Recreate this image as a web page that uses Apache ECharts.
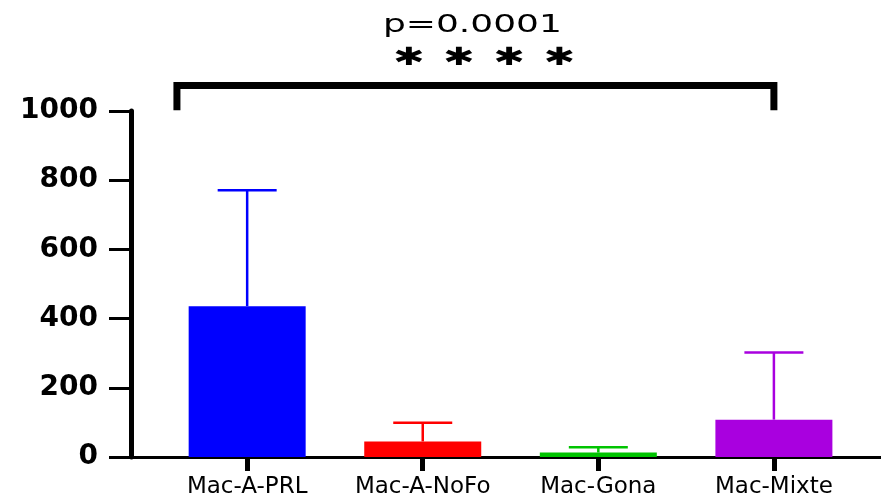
<!DOCTYPE html>
<html>
<head>
<meta charset="utf-8">
<title>Mac groups</title>
<script src="https://cdn.jsdelivr.net/npm/echarts@6/dist/echarts.min.js"></script>
<style>
  html, body { margin: 0; padding: 0; background: #fff; }
  #chart { width: 881px; height: 497px; }
</style>
</head>
<body>
<div id="chart"></div>
<script>
// Groups, their means and the upper error (SD) drawn above each bar
const categories = ['Mac-A-PRL', 'Mac-A-NoFo', 'Mac-Gona', 'Mac-Mixte'];
const meanValues = [436, 45, 13, 108];
const errorValues = [335, 54, 15, 194];

// Value axis settings
const yMin = 0;
const yMax = 1000;
const yStep = 200;

// Significance annotation between the first and last group
const pValueText = 'p=0.0001';
const starsText = '✱\u2002✱\u2002✱\u2002✱';

const barColors = ['#0000FF', '#FF0000', '#00C400', '#A900DF'];
const BAR_WIDTH = 117;
const CAP_WIDTH = 59;
const categoryIdx = categories.map((_, i) => i);

const chart = echarts.init(document.getElementById('chart'), null, { renderer: 'canvas' });

const option = {
  animation: false,
  backgroundColor: '#fff',
  grid: { left: 131, right: 0, top: 111, bottom: 40, containLabel: false, outerBoundsMode: 'none' },
  xAxis: {
    type: 'value',
    min: -0.6616,
    max: 3.61,
    splitLine: { show: false },
    axisLine: { show: true, onZero: false, lineStyle: { color: '#000', width: 3 } },
    axisTick: { show: true, customValues: categoryIdx, length: 14, lineStyle: { color: '#000', width: 5 } },
    axisLabel: {
      show: true,
      customValues: categoryIdx,
      formatter: v => categories[Math.round(v)],
      color: '#000',
      fontFamily: 'DejaVu Sans',
      fontSize: 23,
      margin: 19
    }
  },
  yAxis: {
    type: 'value',
    min: yMin,
    max: yMax,
    interval: yStep,
    splitLine: { show: false },
    axisLine: { show: true, onZero: false, lineStyle: { color: '#000', width: 5 } },
    axisTick: { show: true, length: 22, lineStyle: { color: '#000', width: 3 } },
    axisLabel: {
      color: '#000',
      fontFamily: 'DejaVu Sans',
      fontWeight: 'bold',
      fontSize: 28,
      margin: 33,
      formatter: v => String(v)
    }
  },
  series: [
    {
      type: 'bar',
      barWidth: BAR_WIDTH,
      data: meanValues.map((v, i) => ({ value: [i, v], itemStyle: { color: barColors[i] } })),
      z: 2
    },
    {
      type: 'custom',
      z: 3,
      data: meanValues.map((v, i) => [i, v, errorValues[i]]),
      renderItem: function (params, api) {
        const x = api.value(0);
        const mean = api.value(1);
        const err = api.value(2);
        const base = api.coord([x, mean]);
        const top = api.coord([x, mean + err]);
        const color = barColors[params.dataIndex];
        const style = { stroke: color, lineWidth: 2.5, lineCap: 'butt' };
        return {
          type: 'group',
          children: [
            { type: 'line', shape: { x1: base[0], y1: base[1], x2: top[0], y2: top[1] }, style: style },
            { type: 'line', shape: { x1: top[0] - CAP_WIDTH / 2, y1: top[1], x2: top[0] + CAP_WIDTH / 2, y2: top[1] }, style: style }
          ]
        };
      }
    }
  ]
};

chart.setOption(option);

// Bracket from just left of the first group to the last group, above the axis top
const leftPt = chart.convertToPixel({ gridIndex: 0 }, [-0.4, 1002]);
const rightPt = chart.convertToPixel({ gridIndex: 0 }, [3, 1002]);
const barY = chart.convertToPixel({ gridIndex: 0 }, [0, 1074])[1];
const midX = (leftPt[0] + rightPt[0]) / 2;

chart.setOption({
  graphic: [
    {
      type: 'polyline',
      shape: { points: [[leftPt[0], leftPt[1]], [leftPt[0], barY], [rightPt[0], barY], [rightPt[0], rightPt[1]]] },
      style: { stroke: '#000', lineWidth: 7, fill: null, lineJoin: 'miter', lineCap: 'butt' }
    },
    {
      type: 'text',
      x: midX - 3,
      y: 26,
      scaleX: 1.5,
      style: {
        text: pValueText,
        fontFamily: 'DejaVu Sans',
        fontSize: 24,
        fill: '#000',
        align: 'center',
        verticalAlign: 'middle'
      }
    },
    {
      type: 'text',
      x: midX + 9,
      y: 58,
      scaleX: 1.5,
      style: {
        text: starsText,
        fontFamily: 'DejaVu Sans',
        fontWeight: 'bold',
        fontSize: 25,
        fill: '#000',
        align: 'center',
        verticalAlign: 'middle'
      }
    }
  ]
});
</script>
</body>
</html>
